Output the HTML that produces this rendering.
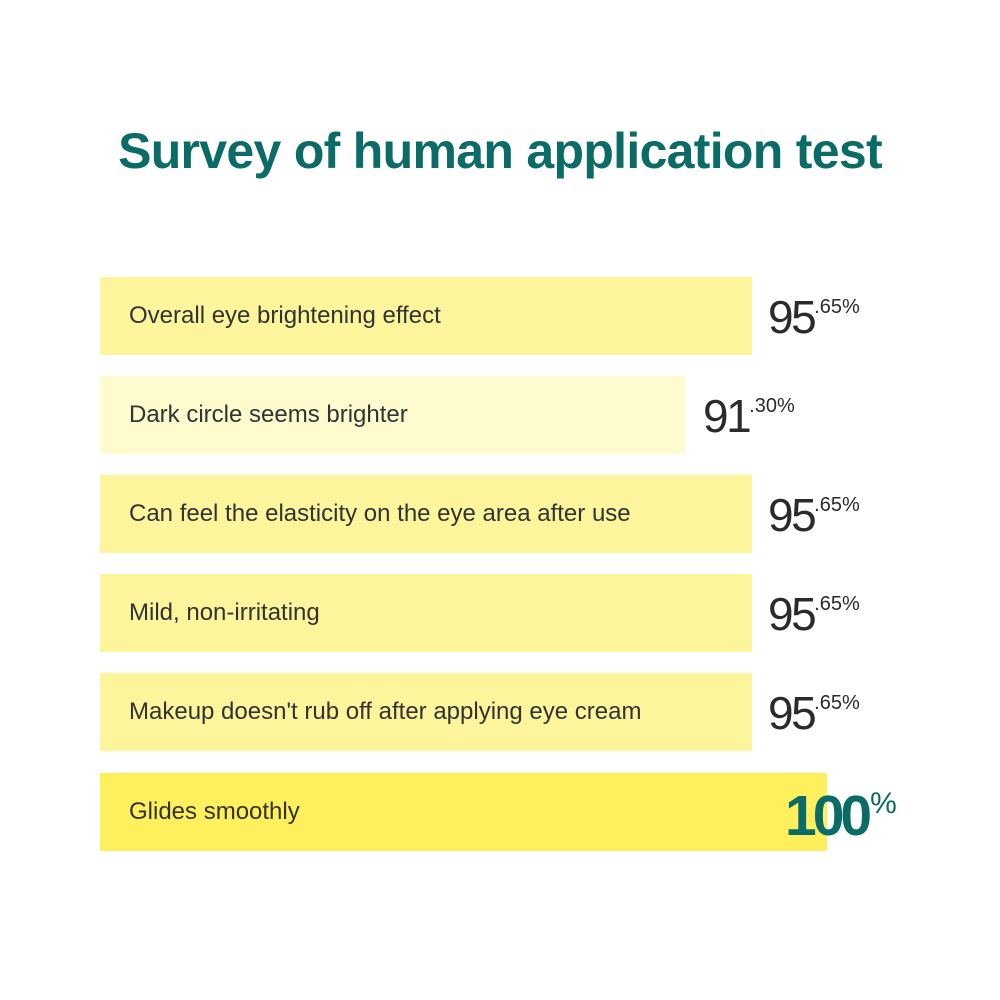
<!DOCTYPE html>
<html><head><style>
body{margin:0;width:1000px;height:1000px;background:#fff;position:relative;font-family:"Liberation Sans",sans-serif;overflow:hidden}
h1{position:absolute;top:122px;left:0;width:1000px;text-align:center;margin:0;font-size:50px;font-weight:bold;color:#0b6b66;letter-spacing:-0.7px}
.bar{position:absolute;left:100px;height:78px;background:#fdf59c}
.lbl{position:absolute;left:129px;font-size:24px;color:#333;line-height:78px;letter-spacing:0px}
.num{position:absolute;font-size:46px;color:#2b2b2b;letter-spacing:-2.5px}
.num span{font-size:20px;vertical-align:20px;letter-spacing:0}
</style></head><body>
<h1>Survey of human application test</h1>
<div class="bar" style="top:277px;width:652px"></div><div class="lbl" style="top:277px">Overall eye brightening effect</div>
<div class="num" style="left:768px;top:290px">95<span>.65%</span></div>
<div class="bar" style="top:376px;width:585px;background:#fefbcf"></div><div class="lbl" style="top:376px">Dark circle seems brighter</div>
<div class="num" style="left:703px;top:389px">91<span>.30%</span></div>
<div class="bar" style="top:475px;width:652px"></div><div class="lbl" style="top:475px">Can feel the elasticity on the eye area after use</div>
<div class="num" style="left:768px;top:488px">95<span>.65%</span></div>
<div class="bar" style="top:574px;width:652px"></div><div class="lbl" style="top:574px">Mild, non-irritating</div>
<div class="num" style="left:768px;top:587px">95<span>.65%</span></div>
<div class="bar" style="top:673px;width:652px"></div><div class="lbl" style="top:673px">Makeup doesn't rub off after applying eye cream</div>
<div class="num" style="left:768px;top:686px">95<span>.65%</span></div>
<div class="bar" style="top:773px;width:727px;background:#fdf05c"></div><div class="lbl" style="top:773px">Glides smoothly</div>
<div style="position:absolute;left:785px;top:783px;font-size:57px;font-weight:bold;color:#0b6b66;letter-spacing:-4px">100<span style="font-size:30px;font-weight:normal;vertical-align:22px;letter-spacing:0;margin-left:2px">%</span></div>
</body></html>
